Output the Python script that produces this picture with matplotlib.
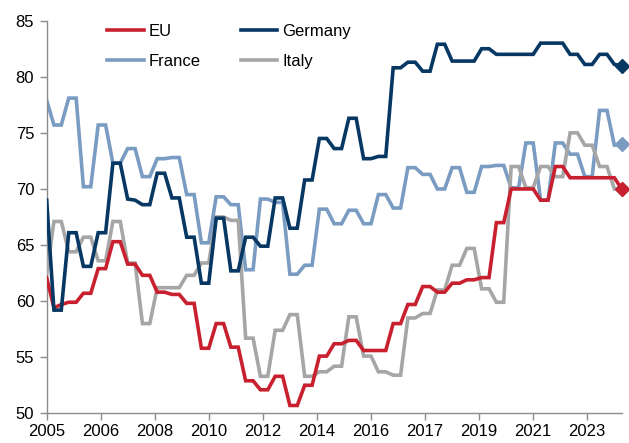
import matplotlib
matplotlib.use("Agg")
import matplotlib.pyplot as plt
import matplotlib.dates as mdates
import pandas as pd

plt.rcParams['font.family'] = ['Liberation Sans', 'DejaVu Sans']

# Quarterly observations, Q1 2005 .. Q3 2024
dates = pd.date_range('2005-01-01', periods=79, freq='QS')

eu = [62.1,
      59.4, 59.7, 59.9, 59.9, 60.7, 60.7, 62.9, 62.9, 65.3, 65.3,
      63.3, 63.3, 62.3, 62.3, 60.8, 60.8, 60.6, 60.6, 59.8, 59.8,
      55.8, 55.8, 58.0, 58.0, 55.9, 55.9, 52.9, 52.9, 52.1, 52.1,
      53.3, 53.3, 50.7, 50.7, 52.5, 52.5, 55.1, 55.1, 56.2, 56.2,
      56.5, 56.5, 55.6, 55.6, 55.6, 55.6, 58.0, 58.0, 59.7, 59.7,
      61.3, 61.3, 60.8, 60.8, 61.6, 61.6, 61.9, 61.9, 62.1, 62.1,
      67.0, 67.0, 70.0, 70.0, 70.0, 70.0, 69.0, 69.0, 72.0, 72.0,
      71.0, 71.0, 71.0, 71.0, 71.0, 71.0, 71.0, 70.0]

germany = [69.0,
           59.2, 59.2, 66.1, 66.1, 63.1, 63.1, 66.1, 66.1, 72.3, 72.3,
           69.1, 69.0, 68.6, 68.6, 71.4, 71.4, 69.2, 69.2, 65.7, 65.7,
           61.6, 61.6, 67.4, 67.4, 62.7, 62.7, 65.7, 65.7, 64.9, 64.9,
           69.2, 69.2, 66.5, 66.5, 70.8, 70.8, 74.5, 74.5, 73.6, 73.6,
           76.3, 76.3, 72.7, 72.7, 72.9, 72.9, 80.8, 80.8, 81.3, 81.3,
           80.5, 80.5, 82.9, 82.9, 81.4, 81.4, 81.4, 81.4, 82.5, 82.5,
           82.0, 82.0, 82.0, 82.0, 82.0, 82.0, 83.0, 83.0, 83.0, 83.0,
           82.0, 82.0, 81.1, 81.1, 82.0, 82.0, 81.1, 81.0]

france = [77.9,
          75.7, 75.7, 78.1, 78.1, 70.2, 70.2, 75.7, 75.7, 72.3, 72.3,
          73.6, 73.6, 71.1, 71.1, 72.7, 72.7, 72.8, 72.8, 69.5, 69.5,
          65.2, 65.2, 69.3, 69.3, 68.6, 68.6, 62.8, 62.8, 69.1, 69.1,
          68.8, 68.8, 62.4, 62.4, 63.2, 63.2, 68.2, 68.2, 66.9, 66.9,
          68.1, 68.1, 66.9, 66.9, 69.5, 69.5, 68.3, 68.3, 71.9, 71.9,
          71.3, 71.3, 70.0, 70.0, 71.9, 71.9, 69.7, 69.7, 72.0, 72.0,
          72.1, 72.1, 70.1, 70.1, 74.1, 74.1, 69.0, 69.0, 74.1, 74.1,
          73.1, 73.1, 71.1, 71.1, 77.0, 77.0, 73.9, 74.0]

italy = [62.4,
         67.1, 67.1, 64.4, 64.4, 65.7, 65.7, 63.6, 63.6, 67.1, 67.1,
         63.4, 63.4, 58.0, 58.0, 61.2, 61.2, 61.2, 61.2, 62.3, 62.3,
         63.4, 63.4, 67.5, 67.5, 67.2, 67.2, 56.7, 56.7, 53.3, 53.3,
         57.4, 57.4, 58.8, 58.8, 53.3, 53.3, 53.7, 53.7, 54.2, 54.2,
         58.6, 58.6, 55.1, 55.1, 53.7, 53.7, 53.4, 53.4, 58.5, 58.5,
         58.9, 58.9, 61.0, 61.0, 63.2, 63.2, 64.7, 64.7, 61.1, 61.1,
         59.9, 59.9, 72.0, 72.0, 70.1, 70.1, 72.0, 72.0, 71.1, 71.1,
         75.0, 75.0, 73.9, 73.9, 72.0, 72.0, 70.0, 70.0]

series = [("EU", eu, "#C8202F"),
          ("France", france, "#7A9CC2"),
          ("Germany", germany, "#073763"),
          ("Italy", italy, "#A6A6A6")]

tick_dates = pd.date_range('2005-01-01', periods=11, freq='22MS')
tick_labels = [str(d.year) for d in tick_dates]

fig = plt.figure(figsize=(6.29, 4.43), dpi=100)
ax = fig.add_axes([0.0742, 0.067, 0.9142, 0.8863])

draw_order = ["France", "Italy", "EU", "Germany"]
handles = {}
for name, vals, col in series:
    z = 2 + draw_order.index(name)
    ln, = ax.plot(dates, vals, color=col, lw=2.6, solid_joinstyle='miter', zorder=z)
    ax.plot(dates[-1:], vals[-1:], marker='D', color=col, ms=7.5, lw=0,
            zorder=z, clip_on=False)
    handles[name] = ln

ax.set_ylim(50, 85)
ax.set_yticks(range(50, 90, 5))
ax.set_xlim(pd.Timestamp('2005-01-01'), dates[-1])
ax.set_xticks(tick_dates)
ax.set_xticklabels(tick_labels)

for s in ['top', 'right']:
    ax.spines[s].set_visible(False)
for s in ['left', 'bottom']:
    ax.spines[s].set_color('#8C8C8C')
    ax.spines[s].set_linewidth(1.0)
ax.tick_params(axis='both', colors='#8C8C8C', labelcolor='black',
               labelsize=12, length=5, width=1.0, direction='out')
ax.tick_params(axis='y', pad=4)
ax.tick_params(axis='x', pad=3)

order = ["EU", "France", "Germany", "Italy"]
leg = fig.legend([handles[n] for n in order], order, ncol=2, frameon=False,
                 loc='upper left', bbox_to_anchor=(107 / 629, 1 - 24 / 443),
                 fontsize=12, handlelength=2.2, handletextpad=0.3,
                 columnspacing=2.4, labelspacing=0.9, borderpad=0,
                 borderaxespad=0)

fig.savefig('out.png', dpi=100)
